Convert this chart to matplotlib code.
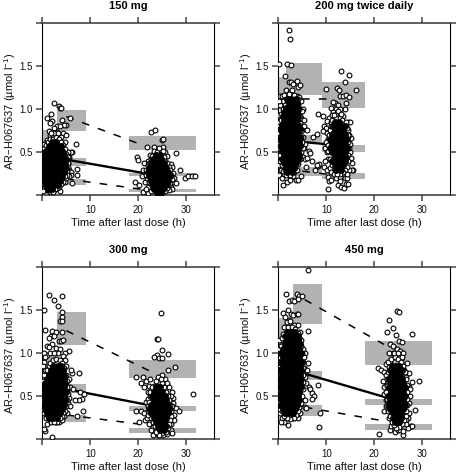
import matplotlib
matplotlib.use('Agg')
import matplotlib.pyplot as plt

plt.rcParams['font.family'] = ['Liberation Sans', 'DejaVu Sans']
plt.rcParams['mathtext.default'] = 'regular'

titles = ['150 mg', '200 mg twice daily', '300 mg', '450 mg']
x_ticks = [0, 10, 20, 30]
y_ticks = [0, 0.5, 1.0, 1.5, 2.0]
x_labels = ['', '10', '20', '30']
y_labels = ['', '0.5', '1.0', '1.5', '']

# grey percentile boxes: left, right, low, high
bands_150 = [(0, 3, 0.55, 0.76), (3, 9, 0.75, 0.99), (3, 9, 0.34, 0.43), (3, 9, 0.12, 0.19),
             (18, 32, 0.53, 0.69), (18, 32, 0.22, 0.26), (18, 32, 0.035, 0.07)]
bands_200 = [(0, 1.5, 1.0, 1.38), (1.5, 9, 1.17, 1.54), (1.5, 9, 0.62, 0.70), (1.5, 9, 0.22, 0.33),
             (9, 18, 1.02, 1.32), (9, 18, 0.50, 0.585), (9, 18, 0.186, 0.255)]
bands_300 = [(0, 3, 0.77, 1.0), (3, 9, 1.09, 1.48), (3, 9, 0.53, 0.64), (3, 9, 0.20, 0.28),
             (18, 32, 0.71, 0.92), (18, 32, 0.32, 0.38), (18, 32, 0.07, 0.13)]
bands_450 = [(0, 3, 1.0, 1.41), (3, 9, 1.34, 1.80), (3, 9, 0.69, 0.795), (3, 9, 0.265, 0.39),
             (18, 32, 0.855, 1.135), (18, 32, 0.40, 0.47), (18, 32, 0.10, 0.175)]

# trend lines: x pair, then upper, median, lower y pairs
lines_150 = [(5, 22), (0.915, 0.56), (0.415, 0.25), (0.19, 0.06)]
lines_200 = [(5, 11), (1.12, 1.12), (0.62, 0.59), (0.28, 0.24)]
lines_300 = [(5, 23.5), (1.26, 0.76), (0.58, 0.38), (0.28, 0.15)]
lines_450 = [(5.5, 22), (1.62, 1.10), (0.76, 0.49), (0.37, 0.21)]

# separate open circles
rim_150 = [(2.4, 1.07), (3.5, 1.04), (3.7, 1.02), (3.9, 1.01), (1.0, 0.9), (1.9, 0.94), (5.8, 0.90), (2.0, 0.86),
           (1.7, 0.84), (4.0, 0.88), (5.0, 0.82), (4.6, 0.82), (3.1, 0.8), (3.6, 0.8), (2.4, 0.78), (1.3, 0.75),
           (3.0, 0.74), (4.4, 0.72), (4.9, 0.7), (1.5, 0.7), (2.2, 0.7), (3.9, 0.68), (7.1, 0.60), (1.0, 0.64),
           (3.4, 0.64), (4.8, 0.62), (0.6, 0.56), (0.3, 0.55), (6.2, 0.5), (6.0, 0.5), (5.3, 0.5), (5.6, 0.44),
           (7.2, 0.31), (5.5, 0.3), (6.0, 0.27), (7.3, 0.24), (5.9, 0.24), (5.5, 0.22), (6.1, 0.14), (5.0, 0.2),
           (3.6, 0.05), (2.5, 0.06), (1.6, 0.04), (0.9, 0.06), (4.8, 0.16), (5.4, 0.37),
           (22.7, 0.74), (23.4, 0.76), (25, 0.64), (25.1, 0.65), (21.7, 0.56), (23.3, 0.56), (25.2, 0.56),
           (27.8, 0.49), (28.7, 0.29), (29.7, 0.2), (30.4, 0.23), (31.1, 0.23), (31.8, 0.23), (19.7, 0.44),
           (20, 0.41), (19.3, 0.155), (20.2, 0.12), (21, 0.04), (22.1, 0.03), (24.5, 0.52), (25.6, 0.5),
           (22.5, 0.47), (26, 0.46), (22, 0.4), (21.2, 0.38), (26.7, 0.36), (27, 0.33), (21, 0.3), (27.3, 0.26),
           (20.8, 0.22), (27.5, 0.2), (21.3, 0.16), (27.2, 0.15), (27.8, 0.14), (26.8, 0.1), (27, 0.07),
           (26.3, 0.06), (22, 0.1), (21.6, 0.07), (22.6, 0.05)]
rim_200 = [(2.2, 1.92), (2.4, 1.82), (0.2, 1.53), (1.9, 1.53), (2.6, 1.52), (1.4, 1.39), (2.3, 1.32), (2.7, 1.32),
           (3.9, 1.33), (3.1, 1.29), (4.0, 1.26), (4.6, 1.28), (1.7, 1.23), (2.5, 1.2), (0.3, 1.15), (0.8, 1.16),
           (1.2, 1.17), (3.9, 1.16), (4.3, 1.14), (4.7, 1.1), (5.2, 1.0), (5.0, 0.98), (4.8, 0.9), (5.4, 0.88),
           (5.3, 0.8), (5, 0.76), (5.9, 0.76), (5.2, 0.68), (0.2, 0.93), (0.1, 0.85), (0.1, 0.72), (0.1, 0.6),
           (0.1, 0.46), (0.2, 0.35), (0.1, 0.24), (0.6, 0.3), (1, 0.12), (1.5, 0.2), (1.9, 0.15), (2.4, 0.18),
           (3, 0.22), (3.6, 0.18), (4.1, 0.18), (4.7, 0.22), (0.8, 0.2), (1.2, 0.25), (5.1, 0.45), (5.4, 0.55),
           (5.6, 0.42), (5.9, 0.43), (6.3, 0.52), (6.6, 0.49), (5.7, 0.33), (7.0, 0.4), (7.3, 0.68), (8.0, 0.71),
           (8.2, 0.34), (8.4, 0.36), (8.0, 0.35), (5.5, 0.6), (7.7, 0.3),
           (13, 1.45), (14.7, 1.4), (10, 1.24), (12.3, 1.25), (12.6, 1.23), (13.9, 1.32), (16.2, 1.23), (12.9, 1.16),
           (13.4, 1.15), (14.1, 1.17), (14.7, 1.14), (14.1, 1.07), (13.9, 1.0), (11.9, 1.07), (11.3, 1.08),
           (12.4, 1.05), (12.0, 1.0), (11.0, 1.02), (12.9, 1.0), (11.4, 0.97), (8.2, 0.95), (9.2, 0.92), (10.6, 0.9),
           (11.1, 0.93), (10.2, 0.86), (13.5, 0.92), (12.1, 0.94), (14.5, 0.85), (15, 0.85), (9.6, 0.8), (10, 0.78),
           (9.3, 0.75), (10.2, 0.72), (14.6, 0.76), (15.2, 0.67), (15, 0.6), (10.4, 0.65), (9.9, 0.62), (9.7, 0.55),
           (10.1, 0.5), (10.4, 0.42), (15, 0.5), (15.2, 0.43), (15.4, 0.38), (15.5, 0.3), (15.3, 0.3), (14.8, 0.3),
           (9.7, 0.4), (9.6, 0.33), (10.1, 0.3), (10.7, 0.32), (11, 0.27), (10.4, 0.21), (10.6, 0.17), (10.9, 0.18),
           (12, 0.2), (12.9, 0.21), (13.8, 0.2), (14.3, 0.2), (10.3, 0.07), (12.5, 0.12), (13, 0.1), (13.6, 0.09),
           (14, 0.13), (14.5, 0.13), (12.8, 0.17), (11.5, 0.25), (14.3, 0.25), (10.7, 0.6), (14.8, 0.7)]
rim_300 = [(1.4, 1.67), (2.4, 1.62), (4.2, 1.66), (3.3, 1.55), (0.4, 1.5), (4.2, 1.48), (4.0, 1.42), (3.7, 1.37),
           (4.0, 1.37), (0.5, 1.27), (2, 1.26), (2.8, 1.24), (4.1, 1.25), (1.8, 1.2), (2.5, 1.2), (1.4, 1.18),
           (3.4, 1.14), (3.8, 1.14), (4.3, 1.15), (2.1, 1.1), (0.9, 1.08), (1.4, 1.07), (2.9, 1.06), (3.7, 1.05),
           (5.5, 1.02), (4.7, 1.0), (4.3, 0.97), (4.8, 0.92), (1.0, 0.98), (0.4, 1.0), (0.3, 0.9), (3.3, 1.0),
           (5, 0.85), (6.2, 0.77), (7.7, 0.77), (6.0, 0.8), (5.5, 0.7), (5.8, 0.6), (6.4, 0.58), (7.8, 0.55),
           (8.7, 0.52), (8.2, 0.47), (7.6, 0.45), (6.9, 0.45), (5.6, 0.48), (5.4, 0.42), (5.7, 0.38), (8.5, 0.33),
           (7.3, 0.27), (5.1, 0.3), (2.0, 0.02), (0.6, 0.09), (0.3, 0.12), (1, 0.18), (1.8, 0.2), (2.8, 0.2),
           (3.5, 0.2), (4.2, 0.22), (4.6, 0.27), (0.8, 0.25), (0.2, 0.3),
           (24.8, 1.47), (23.9, 1.16), (24.1, 1.16), (24.9, 1.04), (23.9, 0.98), (23.3, 0.95), (24.2, 0.94),
           (24.9, 0.94), (26.1, 0.99), (26.2, 0.8), (27.6, 0.84), (19.6, 0.72), (21, 0.72), (21.6, 0.68), (22.4, 0.7),
           (20.5, 0.65), (22.2, 0.62), (21.2, 0.6), (25, 0.75), (24, 0.72), (25.6, 0.7), (26, 0.65), (26.4, 0.6),
           (26.9, 0.55), (27.1, 0.48), (26.7, 0.5), (21.9, 0.55), (21.5, 0.43), (22, 0.47), (27.3, 0.42), (27, 0.38),
           (27.8, 0.36), (28.4, 0.33), (31.3, 0.52), (19.5, 0.32), (20.5, 0.33), (21.2, 0.3), (20.1, 0.2), (21.3, 0.22),
           (21.8, 0.25), (22.2, 0.18), (27.4, 0.28), (27.5, 0.22), (26.7, 0.18), (26.8, 0.1), (27, 0.07), (26, 0.06),
           (23, 0.05), (24, 0.05), (25.1, 0.05), (23.3, 0.1), (23, 0.14), (22.6, 0.1)]
rim_450 = [(6.2, 1.97), (1.6, 1.69), (3.8, 1.69), (4.3, 1.66), (4.9, 1.66), (4.1, 1.63), (2.3, 1.6), (2.8, 1.62),
           (3.2, 1.6), (0.9, 1.47), (2, 1.5), (2.6, 1.45), (3.0, 1.44), (3.9, 1.45), (4.2, 1.45), (1.4, 1.42),
           (2.2, 1.38), (1.6, 1.3), (3.3, 1.33), (4.1, 1.33), (4.6, 1.25), (6.2, 1.26), (3.4, 1.25), (0.5, 1.15),
           (4.8, 1.15), (5.2, 1.05), (5.5, 1.0), (5.3, 0.95), (5.1, 0.9), (5.4, 0.83), (6.2, 0.88), (6, 0.8),
           (5.5, 0.72), (5.7, 0.65), (6.4, 0.6), (6.7, 0.58), (8.3, 0.63), (7, 0.54), (7.4, 0.5), (7, 0.47),
           (5.6, 0.45), (5.5, 0.37), (5.8, 0.36), (8.6, 0.3), (8.5, 0.14), (4, 0.25), (4.5, 0.3), (2, 0.16),
           (3, 0.25), (1.2, 0.2), (0.8, 0.25), (0.5, 0.2), (0.3, 0.3), (0.1, 0.5), (0.1, 0.8), (0.1, 1.0), (0.2, 1.15),
           (23, 1.38), (23.9, 1.29), (24.8, 1.49), (25.2, 1.48), (22.6, 1.24), (24.6, 1.21), (27.9, 1.22), (25.2, 1.14),
           (25.8, 1.13), (23.3, 1.1), (23.9, 1.08), (24.7, 1.05), (23.9, 1.0), (25.4, 1.02), (25.9, 1.0), (23.1, 1.0),
           (25.5, 0.93), (20.8, 0.82), (21.4, 0.8), (22, 0.78), (22.5, 0.75), (22.5, 0.87), (23.3, 0.88), (26.7, 0.88),
           (26.2, 0.8), (27.1, 0.77), (26.5, 0.72), (21.8, 0.68), (22.4, 0.63), (27.8, 0.66), (29.3, 0.68), (27.1, 0.6),
           (27.5, 0.58), (21.9, 0.6), (22, 0.52), (27.5, 0.5), (22.5, 0.45), (27.1, 0.42), (22, 0.33), (22.5, 0.38),
           (27.3, 0.3), (28.5, 0.34), (27, 0.25), (26.6, 0.22), (27.7, 0.15), (26.9, 0.13), (27.9, 0.15), (26, 0.05),
           (20.9, 0.06), (23.3, 0.1), (24.2, 0.08), (25, 0.1), (25.3, 0.1), (26, 0.09), (23, 0.25), (23.5, 0.15), (26.5, 0.18)]

# saturated centre of each cloud, one (y, [x, ...]) row per level
core_150 = [(0.62, [2.0, 2.9]), (0.57, [1.4, 2.3, 3.2, 3.9]), (0.52, [0.8, 1.7, 2.6, 3.5, 4.2]),
            (0.47, [0.3, 1.2, 2.1, 3.0, 3.9, 4.6]), (0.42, [0.2, 0.8, 1.7, 2.6, 3.5, 4.4, 5.0]),
            (0.37, [0.3, 1.2, 2.1, 3.0, 3.9, 4.8]), (0.32, [0.2, 0.8, 1.7, 2.6, 3.5, 4.3, 4.9]),
            (0.27, [0.3, 1.2, 2.1, 3.0, 3.9, 4.5]), (0.22, [0.2, 0.8, 1.7, 2.6, 3.5, 4.2]),
            (0.17, [0.3, 1.2, 2.1, 3.0, 3.7]), (0.12, [0.7, 1.6, 2.5, 3.2]), (0.07, [1.1, 2.0]),
            (0.47, [23.6, 24.5]), (0.42, [23.0, 23.9, 24.8]), (0.37, [22.6, 23.5, 24.4, 25.3]),
            (0.32, [22.2, 23.1, 24.0, 24.9, 25.8]), (0.27, [21.9, 22.7, 23.6, 24.5, 25.4, 26.2]),
            (0.22, [22.2, 23.1, 24, 24.9, 25.8, 26.5]), (0.17, [22.6, 23.5, 24.4, 25.3, 26.2]),
            (0.12, [23.0, 23.9, 24.8, 25.7]), (0.07, [23.3, 24.2, 25.1]), (0.03, [23.9, 24.7])]
core_200 = [(1.12, [1.8, 2.7, 3.6]), (1.07, [2.2, 3.1, 3.9]), (1.02, [1.6, 2.5, 3.4, 4.1]), (0.97, [1.2, 2.1, 3.0, 3.9]),
            (0.92, [0.9, 1.7, 2.6, 3.5, 4.2]), (0.87, [1.2, 2.1, 3.0, 3.9]), (0.82, [0.7, 1.6, 2.5, 3.4, 4.2]),
            (0.77, [0.3, 1.1, 2.0, 2.9, 3.8, 4.5]), (0.72, [0.7, 1.6, 2.5, 3.4, 4.2]), (0.67, [0.3, 1.1, 2, 2.9, 3.8, 4.5]),
            (0.62, [0.7, 1.6, 2.5, 3.4, 4.3]), (0.57, [0.3, 1.1, 2, 2.9, 3.8, 4.5]), (0.52, [0.7, 1.6, 2.5, 3.4, 4.2]),
            (0.47, [1.1, 2, 2.9, 3.8, 4.4]), (0.42, [0.7, 1.6, 2.5, 3.4, 4.1]), (0.37, [1.1, 2, 2.9, 3.7]),
            (0.32, [1.5, 2.4, 3.3]), (0.27, [1.9, 2.8]),
            (0.85, [11.8, 12.7]), (0.8, [11.3, 12.2, 13.1, 13.9]), (0.75, [11.7, 12.6, 13.5]),
            (0.7, [11.2, 12.1, 13.0, 13.9]), (0.65, [10.8, 11.7, 12.6, 13.5, 14.2]), (0.6, [11.2, 12.1, 13, 13.9]),
            (0.55, [10.8, 11.7, 12.6, 13.5, 14.3]), (0.5, [11.2, 12.1, 13, 13.9]), (0.45, [11.7, 12.6, 13.5, 14.1]),
            (0.4, [11.2, 12.1, 13, 13.8]), (0.35, [11.7, 12.6, 13.5]), (0.3, [12.1, 13])]
core_300 = [(0.85, [2.3, 3.2, 3.9]), (0.8, [1.8, 2.7, 3.6, 4.3]), (0.75, [1.4, 2.3, 3.2, 4.0, 4.6]),
            (0.7, [0.9, 1.8, 2.7, 3.6, 4.5]), (0.65, [0.5, 1.4, 2.3, 3.2, 4.1, 4.8]), (0.6, [0.2, 1, 1.9, 2.8, 3.7, 4.6]),
            (0.55, [0.5, 1.4, 2.3, 3.2, 4.1, 4.9]), (0.5, [0.2, 1, 1.9, 2.8, 3.7, 4.6]),
            (0.45, [0.5, 1.4, 2.3, 3.2, 4.1, 4.8]), (0.4, [0.2, 1, 1.9, 2.8, 3.7, 4.5]), (0.35, [0.6, 1.5, 2.4, 3.3, 4.1]),
            (0.3, [1, 1.9, 2.8, 3.6]), (0.25, [1.4, 2.3, 3.1]),
            (0.6, [23.6, 24.5]), (0.55, [23.2, 24.1, 25]), (0.5, [22.8, 23.7, 24.6, 25.5]), (0.45, [23.2, 24.1, 25, 25.8]),
            (0.4, [22.6, 23.6, 24.5, 25.4, 26.2]), (0.35, [22.2, 23.2, 24.1, 25, 25.8, 26.4]),
            (0.3, [22.7, 23.6, 24.5, 25.4, 26.2]), (0.25, [23.2, 24.1, 25, 25.8]), (0.2, [23.6, 24.5, 25.4]),
            (0.15, [24, 24.9, 25.7]), (0.1, [24.4, 25.3])]
core_450 = [(1.25, [1.9, 2.8, 3.5]), (1.2, [1.4, 2.3, 3.2, 4.0]), (1.15, [1.8, 2.7, 3.6, 4.2]), (1.1, [1.3, 2.2, 3.1, 4.0, 4.6]),
            (1.05, [0.9, 1.8, 2.7, 3.6, 4.4]), (1.0, [0.5, 1.3, 2.2, 3.1, 4.0, 4.7]), (0.95, [0.9, 1.8, 2.7, 3.6, 4.4]),
            (0.9, [0.4, 1.3, 2.2, 3.1, 4.0, 4.7]), (0.85, [0.9, 1.8, 2.7, 3.6, 4.5]), (0.8, [0.3, 1.3, 2.2, 3.1, 4.0, 4.8]),
            (0.75, [0.8, 1.8, 2.7, 3.6, 4.5]), (0.7, [0.3, 1.3, 2.2, 3.1, 4.0, 4.8]), (0.65, [0.8, 1.8, 2.7, 3.6, 4.5]),
            (0.6, [0.3, 1.3, 2.2, 3.1, 4.0, 4.7]), (0.55, [0.8, 1.8, 2.7, 3.6, 4.4]), (0.5, [0.3, 1.3, 2.2, 3.1, 4.0]),
            (0.45, [0.8, 1.8, 2.7, 3.6, 4.3]), (0.4, [0.4, 1.3, 2.2, 3.1, 3.9]), (0.35, [0.9, 1.8, 2.7, 3.5]),
            (0.3, [1.3, 2.2, 3.0]),
            (0.85, [23.7, 24.5, 25.2]), (0.8, [23.3, 24.2, 25, 25.7]), (0.75, [23.7, 24.5, 25.4]), (0.7, [23.1, 24, 24.9, 25.7]),
            (0.65, [23.5, 24.4, 25.3, 26]), (0.6, [23, 23.9, 24.8, 25.7, 26.3]), (0.55, [23.4, 24.3, 25.2, 26]),
            (0.5, [22.9, 23.8, 24.7, 25.6, 26.3]), (0.45, [23.3, 24.2, 25.1, 26]), (0.4, [23, 23.8, 24.7, 25.6, 26.3]),
            (0.35, [23.3, 24.2, 25.1, 26]), (0.3, [23.8, 24.7, 25.6]), (0.25, [23.9, 24.8, 25.6]), (0.2, [24.3, 25.2])]

# open circles along the edge of each cloud, half hidden by the core
fringe_150 = [(0.3, 0.6), (0.8, 0.58), (1.2, 0.62), (1.6, 0.66), (2.2, 0.66), (2.8, 0.68), (3.4, 0.65), (3.9, 0.62),
              (4.3, 0.58), (4.7, 0.54), (5.0, 0.48), (5.3, 0.44), (5.4, 0.38), (5.3, 0.33), (5.2, 0.28), (5.1, 0.24),
              (4.7, 0.22), (4.3, 0.16), (3.9, 0.13), (3.5, 0.1), (3.1, 0.08), (2.7, 0.07), (2.2, 0.04), (1.3, 0.06),
              (0.8, 0.1), (0.4, 0.13), (0.2, 0.18), (0.1, 0.05), (0.6, 0.5), (4.4, 0.5), (4.6, 0.38), (0.9, 0.2),
              (2.5, 0.72), (3.3, 0.72), (1.8, 0.72),
              (23.2, 0.52), (23.9, 0.5), (24.9, 0.48), (25.3, 0.45), (25.5, 0.4), (25.9, 0.37), (26.3, 0.33),
              (26.6, 0.29), (26.8, 0.24), (26.9, 0.19), (26.6, 0.14), (26.2, 0.12), (25.9, 0.08), (25.5, 0.05),
              (23.0, 0.08), (22.6, 0.13), (22.2, 0.16), (21.8, 0.2), (21.5, 0.24), (21.5, 0.3), (21.9, 0.35),
              (22.2, 0.38), (22.6, 0.42), (22.9, 0.46), (24.3, 0.55), (25.1, 0.52)]
fringe_200 = [(1.0, 1.1), (1.3, 1.05), (0.9, 1.0), (0.6, 0.95), (0.5, 0.87), (0.2, 0.8), (0.15, 0.65), (0.2, 0.55),
              (0.3, 0.47), (0.4, 0.4), (0.7, 0.35), (0.9, 0.28), (1.3, 0.3), (1.6, 0.24), (2.4, 0.24), (3.2, 0.27),
              (3.8, 0.3), (4.2, 0.36), (4.5, 0.42), (4.7, 0.5), (4.8, 0.58), (4.8, 0.68), (4.8, 0.75), (4.6, 0.84),
              (4.5, 0.92), (4.4, 1.0), (4.2, 1.05), (4, 1.12), (3.3, 1.17), (2.2, 1.18), (2.9, 1.22), (0.4, 1.05),
              (0.15, 1.1), (5.0, 0.62), (5.1, 0.55),
              (10.9, 0.85), (11.2, 0.88), (12, 0.9), (12.8, 0.9), (13.3, 0.87), (14.1, 0.85), (14.4, 0.78), (14.5, 0.7),
              (14.6, 0.62), (14.7, 0.55), (14.6, 0.47), (14.5, 0.4), (14.3, 0.33), (13.9, 0.3), (13.5, 0.27), (12.8, 0.25),
              (12.2, 0.25), (11.7, 0.3), (11.1, 0.35), (10.7, 0.42), (10.4, 0.52), (10.3, 0.58), (10.5, 0.7), (10.7, 0.76),
              (10.9, 0.81), (11.3, 0.72), (13.8, 0.55), (13.3, 0.38), (11.8, 0.47), (12.5, 0.98), (11.6, 0.93), (13.0, 0.95)]
fringe_300 = [(1.3, 0.85), (1.7, 0.88), (2.2, 0.92), (2.9, 0.93), (3.6, 0.92), (4.2, 0.88), (4.6, 0.82), (4.9, 0.75),
              (5.1, 0.68), (5.2, 0.6), (5.3, 0.52), (5.2, 0.45), (5.0, 0.38), (4.8, 0.33), (4.4, 0.3), (4, 0.27),
              (3.6, 0.25), (3, 0.2), (2.5, 0.2), (1.8, 0.25), (1.2, 0.27), (0.8, 0.32), (0.4, 0.3), (0.2, 0.35),
              (0.1, 0.45), (0.1, 0.55), (0.15, 0.68), (0.3, 0.75), (0.6, 0.8), (1, 0.8), (0.2, 0.85), (0.6, 0.95),
              (1.7, 1.0), (2.5, 1.0),
              (23.2, 0.62), (24, 0.66), (25, 0.65), (25.4, 0.6), (25.8, 0.55), (26.2, 0.5), (26.4, 0.45), (26.6, 0.4),
              (26.8, 0.33), (26.8, 0.27), (26.6, 0.22), (26.3, 0.17), (26.1, 0.13), (25.7, 0.08), (25, 0.07), (24.3, 0.05),
              (23.7, 0.08), (23.4, 0.15), (23, 0.2), (22.6, 0.24), (22.1, 0.28), (21.9, 0.33), (21.9, 0.38), (22.2, 0.43),
              (22.4, 0.5), (22.5, 0.55), (22.8, 0.6), (23.6, 0.68), (24.7, 0.7)]
fringe_450 = [(1.2, 1.3), (2, 1.3), (2.8, 1.3), (3.5, 1.28), (4, 1.23), (4.4, 1.18), (4.7, 1.08), (4.9, 1.0), (5, 0.9),
              (5.1, 0.82), (5.2, 0.74), (5.2, 0.66), (5.1, 0.58), (5, 0.5), (4.8, 0.42), (4.4, 0.37), (4.1, 0.33),
              (3.6, 0.28), (3.2, 0.25), (2.5, 0.23), (1.8, 0.24), (1.2, 0.27), (0.8, 0.33), (0.3, 0.35), (0.1, 0.42),
              (0.1, 0.6), (0.05, 0.7), (0.1, 0.9), (0.2, 1.05), (0.5, 1.08), (0.8, 1.17), (1.0, 1.22), (1.8, 1.36),
              (2.5, 1.37), (3, 1.22),
              (22.9, 0.9), (23.5, 0.93), (24.2, 0.95), (25, 0.93), (25.6, 0.9), (26, 0.85), (26.3, 0.78), (26.5, 0.7),
              (26.7, 0.63), (26.8, 0.55), (26.8, 0.47), (26.8, 0.4), (26.6, 0.33), (26.5, 0.27), (26.1, 0.22), (25.7, 0.17),
              (25.2, 0.14), (24.5, 0.13), (24, 0.16), (23.6, 0.2), (23.2, 0.27), (22.8, 0.32), (22.6, 0.4), (22.6, 0.47),
              (22.5, 0.55), (22.6, 0.62), (22.6, 0.7), (22.8, 0.78), (23, 0.84), (24, 1.0), (24.9, 1.0), (25.8, 0.95)]

bands = [bands_150, bands_200, bands_300, bands_450]
lines = [lines_150, lines_200, lines_300, lines_450]
rims = [rim_150, rim_200, rim_300, rim_450]
cores = [core_150, core_200, core_300, core_450]
fringes = [fringe_150, fringe_200, fringe_300, fringe_450]

W, H = 457, 473
lefts = [42.3, 278.3, 42.3, 278.3]
tops = [23.3, 23.3, 267, 267]
ax_w, ax_h = 172, 172

fig = plt.figure(figsize=(W / 100, H / 100), dpi=100)

for i in range(4):
    ax = fig.add_axes([lefts[i] / W, 1 - (tops[i] + ax_h) / H, ax_w / W, ax_h / H])

    for x0, x1, lo, hi in bands[i]:
        ax.bar(x0, hi - lo, width=x1 - x0, bottom=lo, align='edge', color='#b2b2b2', linewidth=0, zorder=1)

    xs, up, med, low = lines[i]
    ax.plot(xs, up, color='black', lw=1.1, dashes=(5, 6), zorder=2)
    ax.plot(xs, med, color='black', lw=1.7, zorder=2)
    ax.plot(xs, low, color='black', lw=1.1, dashes=(5, 6), zorder=2)

    rx = [p[0] for p in rims[i] + fringes[i]]
    ry = [p[1] for p in rims[i] + fringes[i]]
    ax.scatter(rx, ry, s=12, facecolor='white', edgecolor='black', linewidth=0.8, zorder=3)

    cx = [x for y, row in cores[i] for x in row]
    cy = [y for y, row in cores[i] for x in row]
    ax.scatter(cx, cy, s=20, facecolor='black', edgecolor='black', linewidth=0.5, zorder=4)

    ax.set_xlim(0, 35.8)
    ax.set_ylim(0, 2)
    ax.set_xticks(x_ticks)
    ax.set_xticklabels(x_labels)
    ax.set_yticks(y_ticks)
    ax.set_yticklabels(y_labels)
    ax.tick_params(axis='both', which='major', direction='out', length=4.4, width=1.1, color='#444444',
                   top=True, right=True, labelsize=7, pad=2.5, labelcolor='#111111')
    for side in ['top', 'bottom']:
        ax.spines[side].set_color('#444444')
        ax.spines[side].set_linewidth(1.2)
    for side in ['left', 'right']:
        ax.spines[side].set_color('black')
        ax.spines[side].set_linewidth(0.8)

    ax.set_xlabel('Time after last dose (h)', fontsize=8, labelpad=2.5, color='#111111')
    ax.set_ylabel('AR\u2013H067637 (\u00b5mol l$^{-1}$)', fontsize=8, color='#111111')
    ax.yaxis.set_label_coords(-0.14, 0.487)
    ax.set_title(titles[i], fontsize=8, fontweight='bold', pad=10)

fig.savefig('out.png', dpi=100)
